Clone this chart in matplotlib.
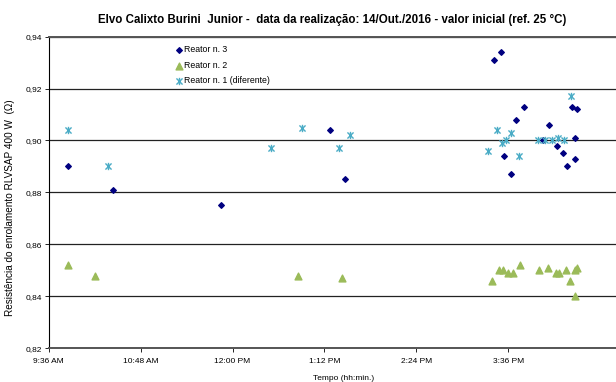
import datetime as dt
import matplotlib
matplotlib.use("Agg")
import matplotlib.pyplot as plt
from matplotlib.path import Path

plt.rcParams['font.family'] = ['Liberation Sans', 'DejaVu Sans']

# Reator n. 3
t3 = ["09:51", "10:26", "11:51", "13:16", "13:28", "15:25", "15:30", "15:33", "15:38", "15:42",
      "15:48", "16:03", "16:08", "16:14", "16:19", "16:22", "16:26", "16:28", "16:28", "16:30"]
v3 = [0.890, 0.881, 0.875, 0.904, 0.885, 0.931, 0.934, 0.894, 0.887, 0.908,
      0.913, 0.900, 0.906, 0.898, 0.895, 0.890, 0.913, 0.901, 0.893, 0.912]

# Reator n. 2
t2 = ["09:51", "10:12", "12:51", "13:26", "15:23", "15:29", "15:32", "15:36", "15:40", "15:45",
      "16:00", "16:07", "16:13", "16:16", "16:21", "16:24", "16:28", "16:30", "16:28"]
v2 = [0.852, 0.848, 0.848, 0.847, 0.846, 0.850, 0.850, 0.849, 0.849, 0.852,
      0.850, 0.851, 0.849, 0.849, 0.850, 0.846, 0.850, 0.851, 0.840]

# Reator n. 1 (diferente)
t1 = ["09:51", "10:22", "12:30", "12:54", "13:23", "13:32", "15:20", "15:27", "15:31", "15:34",
      "15:38", "15:44", "15:59", "16:05", "16:10", "16:15", "16:20", "16:25"]
v1 = [0.904, 0.890, 0.897, 0.905, 0.897, 0.902, 0.896, 0.904, 0.899, 0.900,
      0.903, 0.894, 0.900, 0.900, 0.900, 0.901, 0.900, 0.917]

xticks = ["09:36", "10:48", "12:00", "13:12", "14:24", "15:36"]
xtick_labels = ["9:36 AM", "10:48 AM", "12:00 PM", "1:12 PM", "2:24 PM", "3:36 PM"]
yticks = [0.82, 0.84, 0.86, 0.88, 0.90, 0.92, 0.94]


def to_dt(lst):
    return [dt.datetime(2016, 10, 14, int(s[:2]), int(s[3:])) for s in lst]


# excel style star: an x with a vertical bar
star = Path([(-1, -1), (1, 1), (-1, 1), (1, -1), (0, -1.2), (0, 1.2)],
            [Path.MOVETO, Path.LINETO, Path.MOVETO, Path.LINETO, Path.MOVETO, Path.LINETO])

fig = plt.figure(figsize=(6.16, 3.82), dpi=100)
ax = fig.add_axes([0.0792, 0.0882, 0.92, 0.816])

ax.scatter(to_dt(t3), v3, marker='D', s=8, color='#000080', label='Reator n. 3', zorder=3)
ax.scatter(to_dt(t2), v2, marker='^', s=24, color='#9BBB59', label='Reator n. 2', zorder=3)
ax.scatter(to_dt(t1), v1, marker=star, s=28, color='#4BACC6', linewidths=1.0,
           label='Reator n. 1 (diferente)', zorder=3)

ax.set_xlim(dt.datetime(2016, 10, 14, 9, 36), dt.datetime(2016, 10, 14, 17, 0))
ax.set_ylim(0.82, 0.94)
ax.set_xticks(to_dt(xticks))
ax.set_xticklabels(xtick_labels)
ax.set_yticks(yticks)
ax.set_yticklabels([f"{y:.2f}".replace('.', ',') for y in yticks])
ax.tick_params(labelsize=6.0, length=3, width=0.6, pad=2)
ax.tick_params(axis='x', pad=4)

ax.grid(axis='y', color='#222222', linewidth=0.9)
ax.set_axisbelow(True)
for s in ['top', 'bottom']:
    ax.spines[s].set_color('#555555')
    ax.spines[s].set_linewidth(1.4)
ax.spines['left'].set_color('black')
ax.spines['left'].set_linewidth(0.8)
ax.spines['right'].set_visible(False)

ax.set_title('Elvo Calixto Burini  Junior -  data da realização: 14/Out./2016 - valor inicial (ref. 25 °C)',
             fontsize=8.3, fontweight='bold', pad=10)
ax.set_xlabel('Tempo (hh:min.)', fontsize=6.0)
ax.xaxis.set_label_coords(0.52, -0.085)
ax.set_ylabel('Resistência do enrolamento RLVSAP 400 W  (Ω)', fontsize=7.2)
ax.yaxis.set_label_coords(-0.06, 0.45)

leg = ax.legend(loc='upper left', bbox_to_anchor=(0.205, 1.0), fontsize=6.3, frameon=False,
                handletextpad=0.0, handlelength=1.2, labelspacing=0.75, borderpad=0.5)

fig.savefig('out.png', dpi=100)
